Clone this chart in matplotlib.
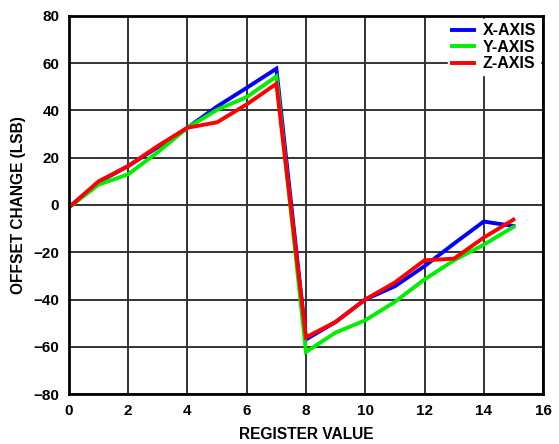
import matplotlib
matplotlib.use("Agg")
import matplotlib.pyplot as plt

register = list(range(16))
x_axis = [-1, 9.7, 16.5, 24.5, 32.7, 41.7, 49.6, 57.7, -56.9, -49.5, -40, -34.4, -25.9, -16.3, -7, -8.9]
y_axis = [-1, 8.6, 13, 22.4, 32.7, 40.3, 45.7, 54.4, -62.2, -54, -48.8, -41, -31.5, -23.4, -16.8, -9.3]
z_axis = [-1, 10, 16.5, 25, 32.7, 35, 42.6, 51.3, -56, -49.5, -40, -32.8, -23.4, -22.7, -13.8, -6.2]
labels = ["X-AXIS", "Y-AXIS", "Z-AXIS"]
colors = ["#0000ff", "#00ee00", "#ff0000"]

plt.rcParams['font.family'] = ['Liberation Sans', 'DejaVu Sans']
plt.rcParams['font.weight'] = 'bold'

fig = plt.figure(figsize=(5.59, 4.44), dpi=100)
ax = fig.add_axes([0.1234, 0.1126, 0.8480, 0.8514])

for data, lab, c in zip([x_axis, y_axis, z_axis], labels, colors):
    ax.plot(register, data, color=c, lw=2.8, label=lab, solid_joinstyle='miter')

ax.set_xlim(0, 16)
ax.set_ylim(-80, 80)
ax.set_xticks(range(0, 17, 2))
ax.set_yticks(range(-80, 81, 20))
ax.grid(True, color='#333333', lw=1.4)
ax.set_axisbelow(True)
ax.tick_params(length=0, labelsize=11, pad=7)
for lbl in ax.get_xticklabels() + ax.get_yticklabels():
    lbl.set_fontweight('bold')
for s in ax.spines.values():
    s.set_linewidth(2)
    s.set_color('black')

ax.set_xlabel("REGISTER VALUE", fontsize=11.2, fontweight='bold', labelpad=7)
ax.set_ylabel("OFFSET CHANGE (LSB)", fontsize=11.2, fontweight='bold', labelpad=5)

leg = ax.legend(loc='upper right', frameon=True, fancybox=False, framealpha=1,
                edgecolor='white', fontsize=11.5, handlelength=1.4, handletextpad=0.5,
                labelspacing=0.1, borderpad=0.25, borderaxespad=0.2)
for t in leg.get_texts():
    t.set_fontweight('bold')

fig.savefig("out.png", dpi=100)
